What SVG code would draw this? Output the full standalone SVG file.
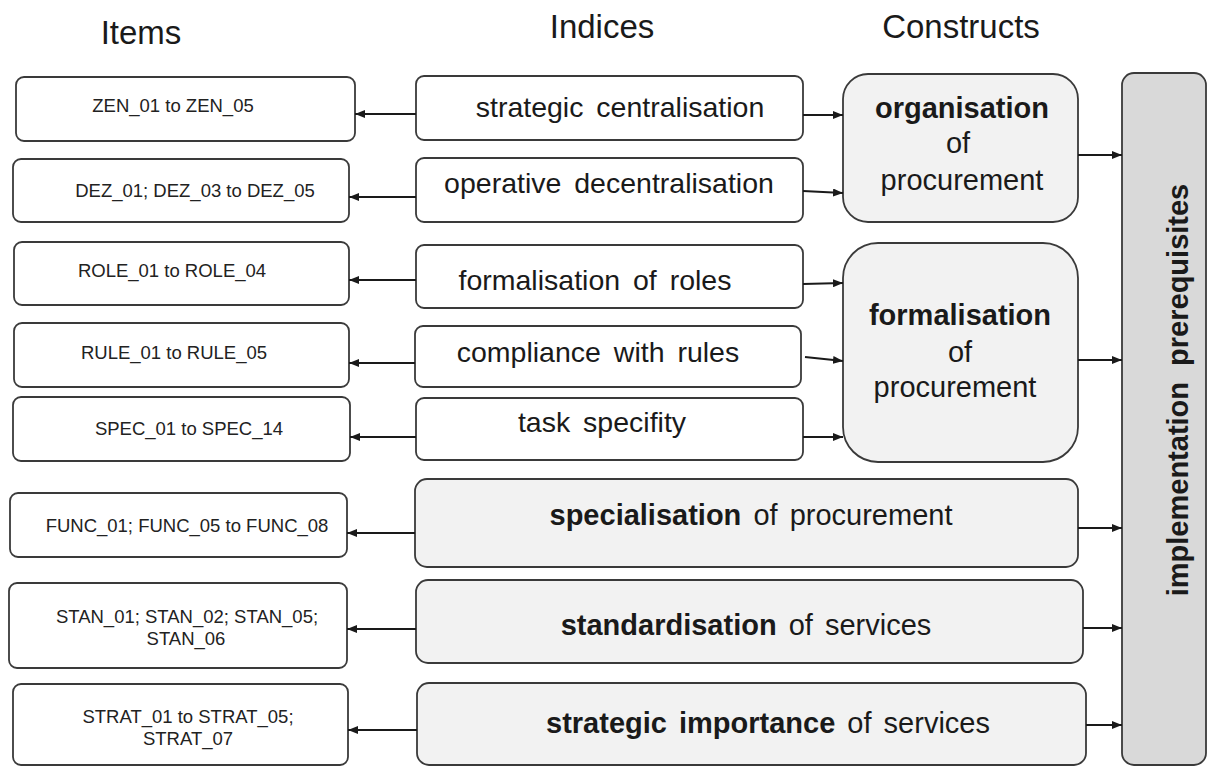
<svg xmlns="http://www.w3.org/2000/svg" width="1208" height="767" viewBox="0 0 1208 767">
<style>
  .item { fill: #ffffff; stroke: #3a3a3a; stroke-width: 1.8; }
  .idx { fill: #ffffff; stroke: #3a3a3a; stroke-width: 1.8; }
  .con { fill: #f2f2f2; stroke: #3a3a3a; stroke-width: 1.8; }
  .impl { fill: #d9d9d9; stroke: #3a3a3a; stroke-width: 1.8; }
  .hdr { font-family: "Liberation Sans", Arial, sans-serif; font-size: 33px; fill: #1a1a1a; text-anchor: middle; }
  .it { font-family: "Liberation Sans", Arial, sans-serif; font-size: 18.5px; fill: #222222; text-anchor: middle; }
  .ix { font-family: "Liberation Sans", Arial, sans-serif; font-size: 28.5px; fill: #1a1a1a; text-anchor: middle; word-spacing: 5px; }
  .ct { font-family: "Liberation Sans", Arial, sans-serif; font-size: 29px; fill: #1a1a1a; text-anchor: middle; word-spacing: 4px; }
  .b { font-weight: bold; }
  .ln { fill: none; stroke: #1a1a1a; stroke-width: 2; marker-end: url(#ah); }
</style>
<defs>
  <marker id="ah" markerUnits="userSpaceOnUse" markerWidth="10" markerHeight="8" refX="10" refY="4" orient="auto">
    <path d="M0,0 L10,4 L0,8 z" fill="#1a1a1a"/>
  </marker>
</defs>

<g id="headers">
  <text class="hdr" x="141" y="44">Items</text>
  <text class="hdr" x="602" y="38">Indices</text>
  <text class="hdr" x="961" y="38">Constructs</text>
</g>

<g id="item-zen"><rect class="item" x="16" y="77" width="339" height="64" rx="8"/><text class="it" x="173" y="112">ZEN_01 to ZEN_05</text></g>
<g id="item-dez"><rect class="item" x="13" y="159" width="336" height="63" rx="8"/><text class="it" x="195" y="197">DEZ_01; DEZ_03 to DEZ_05</text></g>
<g id="item-role"><rect class="item" x="14" y="242" width="335" height="63" rx="8"/><text class="it" x="172" y="277">ROLE_01 to ROLE_04</text></g>
<g id="item-rule"><rect class="item" x="14" y="323" width="335" height="64" rx="8"/><text class="it" x="174" y="359">RULE_01 to RULE_05</text></g>
<g id="item-spec"><rect class="item" x="13" y="397" width="337" height="64" rx="8"/><text class="it" x="189" y="435">SPEC_01 to SPEC_14</text></g>
<g id="item-func"><rect class="item" x="10" y="493" width="337" height="64" rx="8"/><text class="it" x="187" y="532">FUNC_01; FUNC_05 to FUNC_08</text></g>
<g id="item-stan"><rect class="item" x="9" y="583" width="338" height="85" rx="8"/><text class="it" x="187" y="623">STAN_01; STAN_02; STAN_05;</text><text class="it" x="186" y="645">STAN_06</text></g>
<g id="item-strat"><rect class="item" x="13" y="684" width="335" height="81" rx="8"/><text class="it" x="188" y="723">STRAT_01 to STRAT_05;</text><text class="it" x="188" y="745">STRAT_07</text></g>

<g id="idx-zen"><rect class="idx" x="416" y="76" width="387" height="64" rx="8"/><text class="ix" x="620" y="117">strategic centralisation</text></g>
<g id="idx-dez"><rect class="idx" x="416" y="158" width="387" height="64" rx="8"/><text class="ix" x="609" y="193">operative decentralisation</text></g>
<g id="idx-role"><rect class="idx" x="416" y="245" width="387" height="63" rx="8"/><text class="ix" x="595" y="290">formalisation of roles</text></g>
<g id="idx-rule"><rect class="idx" x="415" y="326" width="386" height="61" rx="8"/><text class="ix" x="598" y="362">compliance with rules</text></g>
<g id="idx-spec"><rect class="idx" x="416" y="398" width="387" height="62" rx="8"/><text class="ix" x="602" y="432">task specifity</text></g>

<g id="con-org"><rect class="con" x="843" y="74" width="235" height="148" rx="25"/>
  <text class="ct b" x="962" y="118">organisation</text>
  <text class="ct" x="958" y="153">of</text>
  <text class="ct" x="962" y="190">procurement</text>
</g>
<g id="con-form"><rect class="con" x="843" y="243" width="235" height="219" rx="35"/>
  <text class="ct b" x="960" y="325">formalisation</text>
  <text class="ct" x="960" y="362">of</text>
  <text class="ct" x="955" y="397">procurement</text>
</g>
<g id="con-spec"><rect class="con" x="415" y="479" width="663" height="88" rx="12"/>
  <text class="ct" x="751" y="525"><tspan class="b">specialisation</tspan> of procurement</text>
</g>
<g id="con-stan"><rect class="con" x="416" y="580" width="667" height="83" rx="12"/>
  <text class="ct" x="746" y="635"><tspan class="b">standardisation</tspan> of services</text>
</g>
<g id="con-strat"><rect class="con" x="417" y="683" width="669" height="82" rx="12"/>
  <text class="ct" x="768" y="733"><tspan class="b">strategic importance</tspan> of services</text>
</g>

<g id="impl"><rect class="impl" x="1122" y="73" width="84" height="692" rx="12"/>
  <text class="ct b" transform="translate(1188,390) rotate(-90)" x="0" y="0" style="word-spacing:8px">implementation prerequisites</text>
</g>

<g id="connectors">
  <line class="ln" x1="416" y1="114" x2="355" y2="114"/>
  <line class="ln" x1="416" y1="197" x2="349" y2="197"/>
  <line class="ln" x1="416" y1="280" x2="349" y2="280"/>
  <line class="ln" x1="415" y1="363" x2="349" y2="363"/>
  <line class="ln" x1="416" y1="437" x2="350" y2="437"/>
  <line class="ln" x1="415" y1="533" x2="347" y2="533"/>
  <line class="ln" x1="416" y1="629" x2="347" y2="629"/>
  <line class="ln" x1="417" y1="730" x2="348" y2="730"/>
  <line class="ln" x1="803" y1="115" x2="843" y2="115"/>
  <line class="ln" x1="803" y1="191" x2="843" y2="193"/>
  <line class="ln" x1="803" y1="284" x2="843" y2="283"/>
  <line class="ln" x1="805" y1="357" x2="843" y2="361"/>
  <line class="ln" x1="803" y1="437" x2="843" y2="437"/>
  <line class="ln" x1="1078" y1="155" x2="1122" y2="155"/>
  <line class="ln" x1="1078" y1="360" x2="1122" y2="360"/>
  <line class="ln" x1="1078" y1="528" x2="1122" y2="528"/>
  <line class="ln" x1="1083" y1="628" x2="1122" y2="628"/>
  <line class="ln" x1="1086" y1="725" x2="1122" y2="725"/>
</g>
</svg>
